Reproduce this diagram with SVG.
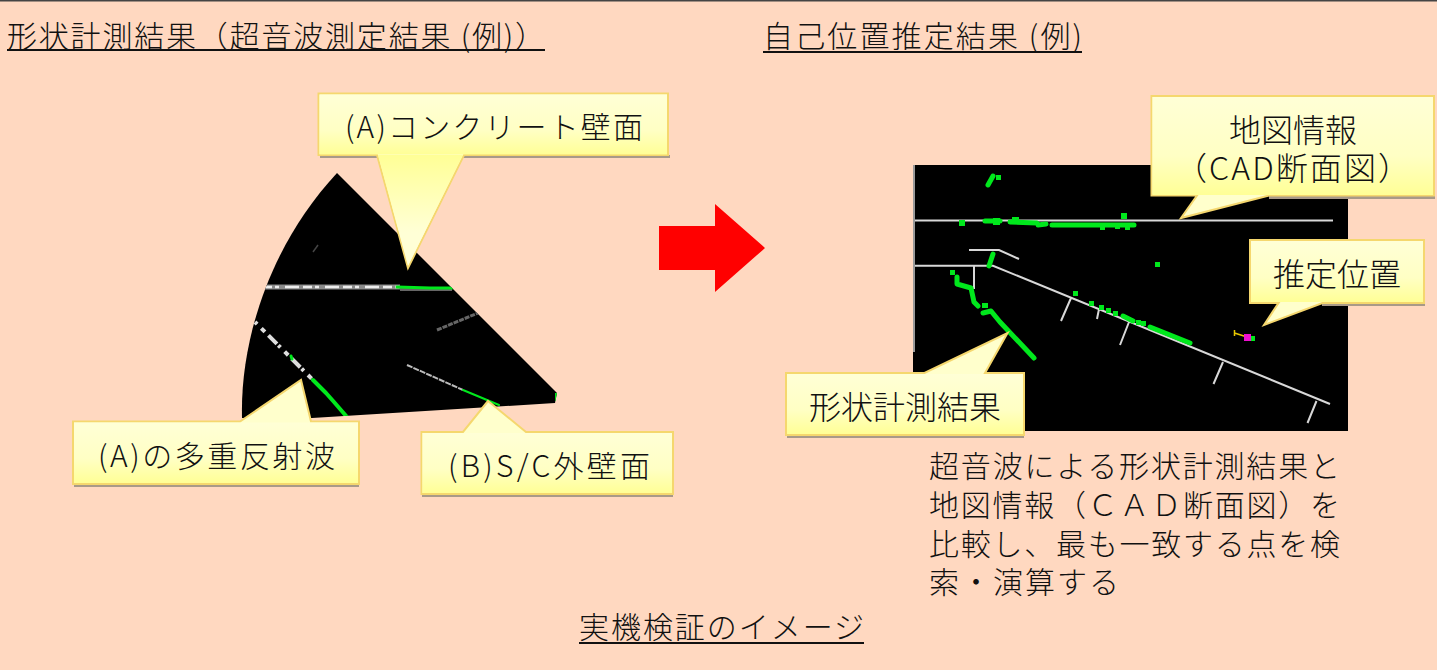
<svg xmlns="http://www.w3.org/2000/svg" width="1437" height="670" viewBox="0 0 1437 670">
<style>
text{font-family:"Noto Sans CJK JP","Liberation Sans",sans-serif;font-size:30px;fill:#111;font-weight:300}
.big{font-size:32px}
.ul{stroke:#111;stroke-width:2;fill:none}
.c{text-anchor:middle}
.out{fill:#FFFFCC;stroke:#F5D76E;stroke-width:2;stroke-linejoin:miter}
.sh{fill:#A89A88}
.box{fill:url(#boxg)}
.g{stroke:#00E81C;fill:none;stroke-width:5;stroke-linecap:round;stroke-linejoin:round}
.gd{fill:#00E81C}
.w{stroke:#D8D8D8;fill:none;stroke-width:2}
</style>
<defs>
<linearGradient id="boxg" x1="0" y1="0" x2="0" y2="1"><stop offset="0" stop-color="#FFFFD6"/><stop offset="0.6" stop-color="#FFFFC4"/><stop offset="1" stop-color="#FFFF96"/></linearGradient>
<linearGradient id="ptr" x1="0" y1="0" x2="0" y2="1"><stop offset="0" stop-color="#FFFF96"/><stop offset="0.7" stop-color="#FFFFD6"/><stop offset="1" stop-color="#FFFFD6"/></linearGradient>
<clipPath id="sector"><path d="M337 173L557 393L555 403L312 418L242 418C240 340 270 245 337 173Z"/></clipPath>
<filter id="soft" x="-10%" y="-10%" width="120%" height="120%"><feGaussianBlur stdDeviation="0.7"/></filter>
</defs>
<rect width="1437" height="670" fill="#FFD8C0"/>
<rect width="1437" height="1.5" fill="#444"/>

<g id="title-left"><text x="7" y="47" textLength="538">形状計測結果（超音波測定結果 (例)）</text><path class="ul" d="M7 50H545"/></g>
<g id="title-right"><text x="763" y="47" textLength="319">自己位置推定結果 (例)</text><path class="ul" d="M763 52H1082"/></g>
<g id="caption"><text x="579" y="638" textLength="285">実機検証のイメージ</text><path class="ul" d="M579 643H864"/></g>

<g id="sonar">
<path d="M337 173L557 393L555 403L312 418L242 418C240 340 270 245 337 173Z" fill="#000"/>
<g clip-path="url(#sector)"><g filter="url(#soft)">
<path d="M263 287L400 287" stroke="#8A8A8A" stroke-width="5" fill="none"/>
<path d="M263 287L400 287" stroke="#EEE" stroke-width="2.500" stroke-dasharray="9 3 4 6 14 4" fill="none"/>
<path d="M400 289L452 289" stroke="#666" stroke-width="4" fill="none"/>
<path d="M255 322L313 380" stroke="#DDD" stroke-width="4" stroke-dasharray="3 6 5 5 12 2" fill="none"/>
<path d="M437 330L478 313" stroke="#666" stroke-width="3" stroke-dasharray="5 1" fill="none"/>
<path d="M407 365L463 390" stroke="#BBB" stroke-width="2" stroke-dasharray="6 1" fill="none"/>
<path d="M313 252L318 245" stroke="#444" stroke-width="1.500" fill="none"/>
</g>
<path class="g" stroke-linecap="butt" style="stroke-width:3" d="M397 287L430 288L452 288"/>
<path class="g" style="stroke-width:4" d="M313 380L326 393L334 402L347 417"/>
<path class="g" style="stroke-width:3" d="M291 356L292 359"/>
<path class="g" style="stroke-width:2" d="M463 390L499 405"/>
<rect x="555" y="393" width="2" height="8" class="gd"/>
</g>
</g>

<g id="map">
<rect x="913" y="165" width="435" height="266" fill="#000"/>
<rect x="913" y="165" width="2" height="187" fill="#999"/>
<g id="cad">
<path class="w" d="M915 220.500H1333M915 265.700H993L1330 404M969 250H999L1019 259M974 266V289M1071 298L1061 321M1099 309L1097 319M1129 322L1120 345M1223 362L1213.500 384M1316.500 401L1307.500 423"/>
</g>
<g id="scan">
<path class="g" d="M988 185L993 176M985 221H1000M1010 222L1037 223M1038 225L1046 224M1052 225L1134 225M993 254L989 266M957 277V284L971 288L974 302L978 306M983 313L991 311L1000 322L1034 358M1123 316L1133 321M1150 327L1190 343"/>
<g class="gd">
<rect x="996" y="175" width="5" height="5"/><rect x="959" y="220" width="6" height="6"/><rect x="1121" y="213" width="6" height="6"/>
<rect x="993" y="218" width="7" height="7"/><rect x="1012" y="217" width="7" height="5"/>
<rect x="1100" y="225" width="5" height="5"/><rect x="1115" y="224" width="5" height="5"/><rect x="1125" y="225" width="5" height="5"/>
<rect x="1155" y="262" width="5" height="5"/><rect x="950" y="270" width="5" height="5"/><rect x="982" y="303" width="6" height="5"/>
<rect x="1073" y="291" width="5" height="5"/><rect x="1089" y="301" width="5" height="5"/><rect x="1099" y="305" width="5" height="5"/>
<rect x="1106" y="308" width="5" height="5"/><rect x="1113" y="311" width="5" height="5"/><rect x="1136" y="320" width="5" height="5"/><rect x="1141" y="321" width="5" height="5"/>
<rect x="1250" y="336" width="5" height="5"/>
</g>
</g>
<g id="estimate">
<path d="M1234.500 330V336M1234.500 333L1247 337" stroke="#E8C800" stroke-width="1.500" fill="none"/>
<rect x="1244" y="334" width="7" height="7" fill="#F010D0"/>
</g>
</g>

<g id="arrow"><path d="M659 226H715V204L765 248L715 292V270H659Z" fill="#FF0000"/></g>

<g id="callout-a">
<path class="sh" d="M320 155H670V158H320Z"/>
<path class="out" d="M318.500 93.500H668V155H464L408 268L377 155H318.500Z"/>
<rect class="box" x="319.500" y="94.500" width="347.500" height="60"/>
<path fill="url(#ptr)" d="M378 155H463L408 266Z"/>
<text x="345" y="138" textLength="298">(A)コンクリート壁面</text>
</g>
<g id="callout-multi">
<path class="sh" d="M74 484H359V487H74Z"/>
<path class="out" d="M73 421.500H240L301 380L311 421.500H359V484H73Z"/>
<rect class="box" x="74" y="422.500" width="284" height="60.500"/>
<text x="98" y="467" textLength="237">(A)の多重反射波</text>
</g>
<g id="callout-b">
<path class="sh" d="M422 494H673V497H422Z"/>
<path class="out" d="M421.500 432H463L488 401L526 432H673V494H421.500Z"/>
<rect class="box" x="422.500" y="433" width="249.500" height="60"/>
<text x="448" y="477" textLength="202">(B)S/C外壁面</text>
</g>
<g id="callout-map">
<path class="sh" d="M1269 195.500H1435V199H1269Z"/>
<path class="out" d="M1151.500 96H1434V195.500H1269L1181 218L1197 195.500H1151.500Z"/>
<rect class="box" x="1152.500" y="97" width="280.500" height="98"/>
<text class="c big" x="1293" y="142">地図情報</text>
<text x="1175" y="180" class="big" textLength="235">（CAD断面図）</text>
</g>
<g id="callout-pos">
<path class="sh" d="M1322 303H1425V306H1322Z"/>
<path class="out" d="M1250 240H1424V303H1322.500L1264 325L1278.500 303H1250Z"/>
<rect class="box" x="1251" y="241" width="172" height="61"/>
<text class="c big" x="1337" y="286">推定位置</text>
</g>
<g id="callout-shape">
<path class="sh" d="M787 435H1024V438H787Z"/>
<path class="out" d="M786 373H924.500L1007.500 333L985 373H1024V435H786Z"/>
<rect class="box" x="787" y="374" width="236" height="60"/>
<text class="c big" x="905" y="419">形状計測結果</text>
</g>

<g id="note">
<text x="929" y="477" textLength="411">超音波による形状計測結果と</text>
<text x="929" y="516" textLength="411">地図情報（ＣＡＤ断面図）を</text>
<text x="929" y="555" textLength="411">比較し、最も一致する点を検</text>
<text x="929" y="593" textLength="190">索・演算する</text>
</g>
</svg>
